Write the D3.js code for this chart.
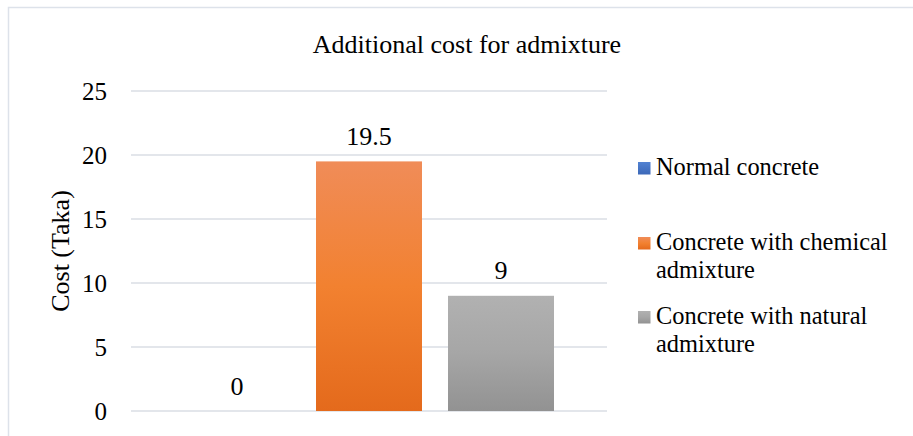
<!DOCTYPE html>
<html>
<head>
<meta charset="utf-8">
<script src="https://cdn.jsdelivr.net/npm/d3@7"></script>
<style>
  html, body { margin: 0; padding: 0; background: #fff; }
  svg { display: block; }
</style>
</head>
<body>
<svg id="chart" width="913" height="436"></svg>
<script>
// ---- data ----
const chartTitle = "Additional cost for admixture";
const yAxisTitle = "Cost (Taka)";
const seriesNames = ["Normal concrete", "Concrete with chemical admixture", "Concrete with natural admixture"];
const legendLines = [["Normal concrete"], ["Concrete with chemical", "admixture"], ["Concrete with natural", "admixture"]];
const seriesValues = [0, 19.5, 9];
const yTicks = [0, 5, 10, 15, 20, 25];
const seriesColors = [
  ["#5282d2", "#3c68b8"],
  ["#f08c58", "#f28130", "#e46a1c"],
  ["#b1b1b1", "#a6a6a6", "#929292"]
];

// ---- layout ----
const FONT = "Liberation Serif";
const svg = d3.select("#chart");
const W = 913, H = 436;
const plot = { left: 131, right: 607, top: 91, bottom: 411 };

// outer chart border
svg.append("rect")
  .attr("x", 8.5).attr("y", 7.5)
  .attr("width", W + 20).attr("height", H + 20)
  .attr("fill", "#fff").attr("stroke", "#dde2ea").attr("stroke-width", 1.5);

const y = d3.scaleLinear().domain([0, 25]).range([plot.bottom, plot.top]);
const x = d3.scaleBand().domain(seriesNames).range([plot.left, plot.right])
  .paddingInner(0.197).paddingOuter(0.4015);

// gradients
const defs = svg.append("defs");
seriesColors.forEach((cols, i) => {
  const g = defs.append("linearGradient").attr("id", "grad" + i)
    .attr("x1", 0).attr("y1", 0).attr("x2", 0).attr("y2", 1);
  cols.forEach((c, j) => g.append("stop")
    .attr("offset", (j / (cols.length - 1) * 100) + "%").attr("stop-color", c));
});

// gridlines
svg.append("g").selectAll("line").data(yTicks).join("line")
  .attr("x1", plot.left).attr("x2", plot.right)
  .attr("y1", d => y(d)).attr("y2", d => y(d))
  .attr("stroke", "#dadee5").attr("stroke-width", 1.5);

// y axis labels
const yAxis = d3.axisLeft(y).tickValues(yTicks).tickSize(0).tickPadding(0);
const yg = svg.append("g").attr("transform", "translate(107,0)").call(yAxis);
yg.select(".domain").remove();
yg.selectAll("text")
  .style("font-family", FONT).style("font-size", "25px")
  .attr("fill", "#000").attr("dy", "0.34em");

// y axis title
svg.append("text")
  .attr("transform", "translate(69,251) rotate(-90)")
  .attr("text-anchor", "middle")
  .style("font-family", FONT).style("font-size", "26px").attr("fill", "#000")
  .text(yAxisTitle);

// title
svg.append("text")
  .attr("x", 467).attr("y", 53)
  .attr("text-anchor", "middle")
  .style("font-family", FONT).style("font-size", "26px").attr("fill", "#000")
  .text(chartTitle);

// bars
svg.append("g").selectAll("rect")
  .data(seriesValues).join("rect")
  .attr("x", (d, i) => x(seriesNames[i]))
  .attr("width", x.bandwidth())
  .attr("y", d => y(d))
  .attr("height", d => y(0) - y(d))
  .attr("fill", (d, i) => `url(#grad${i})`);

// data labels
svg.append("g").selectAll("text")
  .data(seriesValues).join("text")
  .attr("x", (d, i) => x(seriesNames[i]) + x.bandwidth() / 2)
  .attr("y", d => y(d) - 16.5)
  .attr("text-anchor", "middle")
  .style("font-family", FONT).style("font-size", "26px").attr("fill", "#000")
  .text(d => d);

// legend
const legendTop = [162, 237, 311];
const lg = svg.append("g");
seriesNames.forEach((name, i) => {
  const g = lg.append("g").attr("transform", `translate(638,${legendTop[i]})`);
  g.append("rect").attr("width", 12.5).attr("height", 12.5)
    .attr("fill", `url(#grad${i})`);
  legendLines[i].forEach((line, j) => {
    g.append("text").attr("x", 18).attr("y", 13 + j * 28)
      .style("font-family", FONT).style("font-size", "24.4px")
      .attr("fill", "#000").text(line);
  });
});
</script>
</body>
</html>
